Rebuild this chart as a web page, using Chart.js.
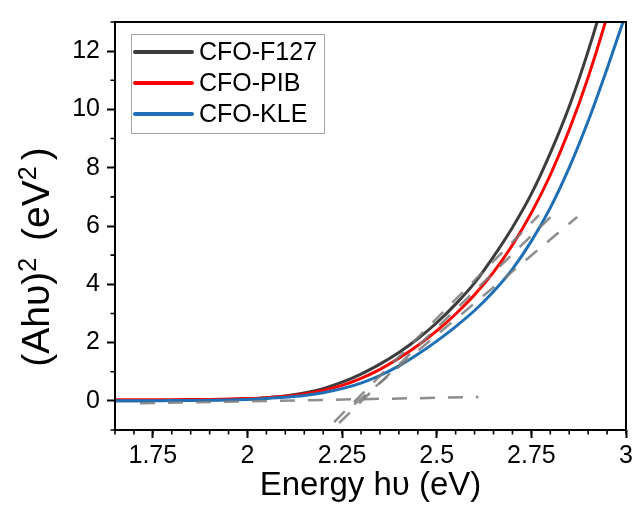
<!DOCTYPE html>
<html>
<head>
<meta charset="utf-8">
<title>Tauc plot</title>
<script src="https://cdn.jsdelivr.net/npm/chart.js@4.4.1/dist/chart.umd.min.js"></script>
<style>
  html, body { margin: 0; padding: 0; background: #fff; }
  #wrap { width: 643px; height: 521px; }
</style>
</head>
<body>
<div id="wrap"><canvas id="tauc" width="643" height="521"></canvas></div>
<script>
// Photon energy grid (eV)
const energy = [1.65, 1.70, 1.75, 1.80, 1.85, 1.90, 1.95, 2.00, 2.05, 2.10, 2.15, 2.20, 2.25, 2.30,
                2.35, 2.40, 2.45, 2.50, 2.55, 2.60, 2.65, 2.70, 2.75, 2.80, 2.85, 2.90, 2.95, 3.00];

// (A h nu)^2 for each sample (eV^2)
const cfoF127 = [0.00, 0.00, 0.01, 0.01, 0.02, 0.03, 0.05, 0.07, 0.11, 0.17, 0.27, 0.42, 0.64, 0.92,
                 1.26, 1.66, 2.13, 2.68, 3.32, 4.05, 4.95, 5.95, 7.10, 8.50, 10.1, 12.0, 14.2, 16.8];
const cfoPIB  = [0.04, 0.04, 0.04, 0.04, 0.05, 0.05, 0.06, 0.08, 0.11, 0.16, 0.24, 0.36, 0.53, 0.77,
                 1.08, 1.46, 1.90, 2.40, 2.98, 3.64, 4.42, 5.35, 6.45, 7.75, 9.30, 11.1, 13.2, 15.6];
const cfoKLE  = [0.00, 0.00, 0.00, 0.01, 0.01, 0.02, 0.03, 0.05, 0.08, 0.12, 0.18, 0.28, 0.42, 0.61,
                 0.87, 1.20, 1.60, 2.05, 2.55, 3.10, 3.75, 4.52, 5.48, 6.62, 8.00, 9.60, 11.4, 13.3];

// Linear fits used for the band-gap extrapolation: [energy, value] end points
const fitBaseline = [[1.716, -0.08], [2.610, 0.13]];
const fitF127     = [[2.229, -0.73], [2.770, 6.37]];
const fitPIB      = [[2.242, -0.76], [2.823, 6.59]];
const fitKLE      = [[2.282, -0.12], [2.871, 6.31]];

// Axis ticks
const xTickValues = [1.75, 2, 2.25, 2.5, 2.75, 3];
const yTickValues = [0, 2, 4, 6, 8, 10, 12];

// Axis title pieces: [text, isSuperscript]
const yTitleParts = [['(Ahυ)', false], ['2', true], [' (eV', false], ['2', true], [')', false]];
const xTitleText = 'Energy hυ (eV)';

const FONT = '"Liberation Sans", Arial, Helvetica, sans-serif';

const toPoints = (xs, ys) => xs.map((x, i) => ({ x: x, y: ys[i] }));
const pairPoints = (pairs) => pairs.map(p => ({ x: p[0], y: p[1] }));

function curve(label, values, color, order) {
  return {
    label: label,
    data: toPoints(energy, values),
    borderColor: color,
    backgroundColor: color,
    borderWidth: 3,
    pointRadius: 0,
    cubicInterpolationMode: 'monotone',
    fill: false,
    order: order,
    inLegend: true
  };
}

function fitLine(pairs) {
  return {
    label: '',
    data: pairPoints(pairs),
    borderColor: 'rgba(122,122,122,0.85)',
    borderWidth: 2.5,
    borderDash: [15, 13],
    pointRadius: 0,
    tension: 0,
    fill: false,
    order: 0,
    inLegend: false
  };
}

// Closed black frame plus short minor ticks on the bottom and left axes
const frameAndMinorTicks = {
  id: 'frameAndMinorTicks',
  afterDatasetsDraw(chart) {
    const { ctx, chartArea: a, scales: { x, y } } = chart;
    ctx.save();
    ctx.strokeStyle = '#000';
    ctx.lineWidth = 2;
    ctx.strokeRect(a.left, a.top, a.right - a.left, a.bottom - a.top);

    ctx.lineWidth = 1.6;
    ctx.beginPath();
    for (let k = 0; k <= 27; k++) {
      const v = 1.65 + k * 0.05;
      if (v > x.max + 1e-9) break;
      const px = x.getPixelForValue(v);
      ctx.moveTo(px, a.bottom);
      ctx.lineTo(px, a.bottom + 4.5);
    }
    for (let k = 0; k <= 7; k++) {
      const v = -1 + k * 2;
      const py = y.getPixelForValue(v);
      ctx.moveTo(a.left, py);
      ctx.lineTo(a.left - 4.5, py);
    }
    ctx.stroke();
    ctx.restore();
  }
};

// Rotated y-axis title with raised exponents
const yAxisTitle = {
  id: 'yAxisTitle',
  afterDraw(chart) {
    const ctx = chart.ctx;
    const big = '39px ' + FONT, small = '25px ' + FONT;
    const gap = 6;
    ctx.save();
    let total = 0;
    yTitleParts.forEach(p => {
      ctx.font = p[1] ? small : big;
      total += ctx.measureText(p[0]).width + (p[1] ? gap : 0);
    });
    ctx.translate(49, 257);
    ctx.rotate(-Math.PI / 2);
    ctx.fillStyle = '#000';
    ctx.textAlign = 'left';
    ctx.textBaseline = 'alphabetic';
    let pos = -total / 2;
    yTitleParts.forEach(p => {
      ctx.font = p[1] ? small : big;
      ctx.fillText(p[0], pos, p[1] ? -13 : 0);
      pos += ctx.measureText(p[0]).width + (p[1] ? gap : 0);
    });
    ctx.restore();
  }
};

// Boxed legend placed in the upper-left corner of the plot area
const insetLegend = {
  id: 'insetLegend',
  afterDraw(chart) {
    const { ctx, chartArea: a } = chart;
    const items = chart.data.datasets.filter(d => d.inLegend);
    const bx = a.left + 16, by = a.top + 12, bw = 193, bh = 99;
    ctx.save();
    ctx.fillStyle = '#fff';
    ctx.fillRect(bx, by, bw, bh);
    ctx.strokeStyle = '#a8a8a8';
    ctx.lineWidth = 1;
    ctx.strokeRect(bx + 0.5, by + 0.5, bw, bh);
    ctx.font = '25px ' + FONT;
    ctx.textBaseline = 'middle';
    ctx.textAlign = 'left';
    items.forEach((d, i) => {
      const cy = by + 18 + i * 31;
      ctx.strokeStyle = d.borderColor;
      ctx.lineWidth = 4;
      ctx.lineCap = 'round';
      ctx.beginPath();
      ctx.moveTo(bx + 4, cy);
      ctx.lineTo(bx + 61, cy);
      ctx.stroke();
      ctx.fillStyle = '#000';
      ctx.fillText(d.label, bx + 68, cy + 1);
    });
    ctx.restore();
  }
};

new Chart(document.getElementById('tauc'), {
  type: 'line',
  data: {
    datasets: [
      curve('CFO-F127', cfoF127, '#3c3c3c', 3),
      curve('CFO-PIB', cfoPIB, '#ff0000', 2),
      curve('CFO-KLE', cfoKLE, '#1e6fb5', 1),
      fitLine(fitBaseline),
      fitLine(fitF127),
      fitLine(fitPIB),
      fitLine(fitKLE)
    ]
  },
  options: {
    responsive: false,
    devicePixelRatio: 1,
    animation: false,
    layout: { padding: { left: 0, top: 15, right: 17, bottom: 0 } },
    plugins: {
      legend: { display: false },
      tooltip: { enabled: false }
    },
    scales: {
      x: {
        type: 'linear',
        min: 1.65,
        max: 3.0,
        afterFit: (s) => { s.height = 91; },
        afterBuildTicks: (s) => { s.ticks = xTickValues.map(v => ({ value: v })); },
        border: { display: false },
        grid: { drawOnChartArea: false, drawTicks: true, tickLength: 8, tickWidth: 2, tickColor: '#000' },
        ticks: {
          color: '#000',
          padding: 3,
          maxRotation: 0,
          autoSkip: false,
          font: { family: FONT, size: 25 },
          callback: (v) => String(v)
        },
        title: {
          display: true,
          text: xTitleText,
          color: '#000',
          font: { family: FONT, size: 33 },
          padding: { top: 0, bottom: 15 }
        }
      },
      y: {
        type: 'linear',
        min: -1,
        max: 13,
        afterFit: (s) => { s.width = 115; },
        afterBuildTicks: (s) => { s.ticks = yTickValues.map(v => ({ value: v })); },
        border: { display: false },
        grid: { drawOnChartArea: false, drawTicks: true, tickLength: 8, tickWidth: 2, tickColor: '#000' },
        ticks: {
          color: '#000',
          padding: 7,
          autoSkip: false,
          font: { family: FONT, size: 25 },
          callback: (v) => String(v)
        },
        title: { display: false }
      }
    }
  },
  plugins: [frameAndMinorTicks, yAxisTitle, insetLegend]
});
</script>
</body>
</html>
